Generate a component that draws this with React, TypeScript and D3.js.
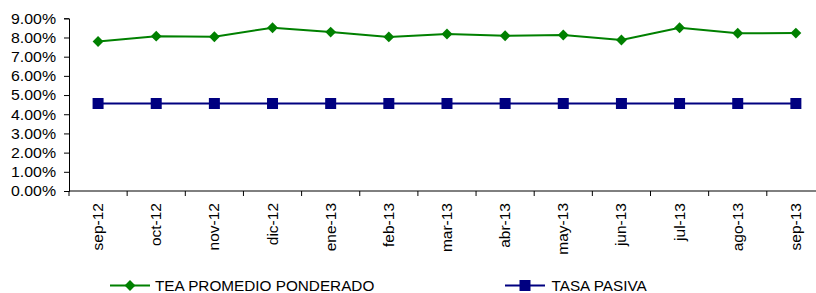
import React, { useEffect, useRef } from "react";
import * as d3 from "d3";

const months = ["sep-12", "oct-12", "nov-12", "dic-12", "ene-13", "feb-13", "mar-13", "abr-13", "may-13", "jun-13", "jul-13", "ago-13", "sep-13"];
const teaPromedio = [7.79, 8.07, 8.04, 8.51, 8.28, 8.03, 8.18, 8.09, 8.13, 7.87, 8.51, 8.22, 8.23];
const tasaPasiva = [4.56, 4.56, 4.56, 4.56, 4.56, 4.56, 4.56, 4.56, 4.56, 4.56, 4.56, 4.56, 4.56];
const yTicks = [0, 1, 2, 3, 4, 5, 6, 7, 8, 9];

const W = 816;
const H = 293;

function App() {
    const ref = useRef<SVGSVGElement>(null);

    useEffect(() => {
        const svg = d3.select(ref.current);
        svg.selectAll("*").remove();

        const left = 69, top = 18.3, bottom = 191;
        const step = 58.15;

        const x = d3.scaleBand()
            .domain(months)
            .range([left, left + step * months.length]);

        const y = d3.scaleLinear()
            .domain([0, 9])
            .range([bottom, top]);

        const font = "'Liberation Sans', Arial, sans-serif";

        // Y axis
        const yAxis = svg.append("g")
            .attr("transform", `translate(${left},0)`)
            .call(d3.axisLeft(y).tickValues(yTicks).tickSize(5).tickFormat(() => ""));
        yAxis.select(".domain").attr("stroke", "#000");
        yAxis.selectAll("line").attr("stroke", "#000");

        // y labels: tall but slightly narrow, like the reference
        svg.append("g").selectAll("text")
            .data(yTicks)
            .enter()
            .append("text")
            .attr("x", 56)
            .attr("y", d => y(d) + 5.3)
            .attr("text-anchor", "end")
            .attr("font-family", font)
            .attr("font-size", 15)
            .attr("textLength", 45)
            .attr("lengthAdjust", "spacingAndGlyphs")
            .attr("fill", "#000")
            .text(d => d.toFixed(2) + "%");

        // X axis
        const xAxis = svg.append("g")
            .attr("transform", `translate(0,${bottom})`);
        xAxis.append("line")
            .attr("x1", left).attr("x2", left + step * months.length)
            .attr("stroke", "#000");
        const edges = months.map(m => x(m) as number).concat([left + step * months.length]);
        xAxis.selectAll("line.tick")
            .data(edges)
            .enter()
            .append("line")
            .attr("class", "tick")
            .attr("x1", d => d).attr("x2", d => d)
            .attr("y1", 0).attr("y2", 5)
            .attr("stroke", "#000");
        xAxis.selectAll("text")
            .data(months)
            .enter()
            .append("text")
            .attr("transform", d => `translate(${(x(d) as number) + x.bandwidth() / 2 + 5},12) rotate(-90)`)
            .attr("text-anchor", "end")
            .attr("font-family", font)
            .attr("font-size", 15.5)
            .attr("fill", "#000")
            .text(d => d);

        const cx = (i: number) => (x(months[i]) as number) + x.bandwidth() / 2;

        const line = d3.line<number>()
            .x((d, i) => cx(i))
            .y(d => y(d));

        // TEA line
        svg.append("path")
            .attr("d", line(teaPromedio))
            .attr("fill", "none")
            .attr("stroke", "#008000")
            .attr("stroke-width", 2);

        const diamond = d3.symbol().type(d3.symbolDiamond2).size(75);
        svg.selectAll("path.tea")
            .data(teaPromedio)
            .enter()
            .append("path")
            .attr("class", "tea")
            .attr("d", diamond)
            .attr("transform", (d, i) => `translate(${cx(i)},${y(d)})`)
            .attr("fill", "#008000");

        // Tasa pasiva line
        svg.append("path")
            .attr("d", line(tasaPasiva))
            .attr("fill", "none")
            .attr("stroke", "#000080")
            .attr("stroke-width", 2);

        svg.selectAll("rect.pas")
            .data(tasaPasiva)
            .enter()
            .append("rect")
            .attr("class", "pas")
            .attr("x", (d, i) => cx(i) - 5.5)
            .attr("y", d => y(d) - 5.5)
            .attr("width", 11)
            .attr("height", 11)
            .attr("fill", "#000080");

        // Legend
        const legY = 285.5;
        const leg1 = svg.append("g").attr("transform", `translate(110,${legY})`);
        leg1.append("line").attr("x1", 0).attr("x2", 40).attr("stroke", "#008000").attr("stroke-width", 2);
        leg1.append("path").attr("d", diamond).attr("transform", "translate(20,0)").attr("fill", "#008000");
        leg1.append("text").attr("x", 45).attr("y", 5.3).attr("font-family", font).attr("font-size", 15.3).text("TEA PROMEDIO PONDERADO");

        const leg2 = svg.append("g").attr("transform", `translate(505,${legY})`);
        leg2.append("line").attr("x1", 0).attr("x2", 40).attr("stroke", "#000080").attr("stroke-width", 2);
        leg2.append("rect").attr("x", 14.5).attr("y", -5.5).attr("width", 11).attr("height", 11).attr("fill", "#000080");
        leg2.append("text").attr("x", 46.5).attr("y", 5.3).attr("font-family", font).attr("font-size", 15.3).text("TASA PASIVA");
    }, []);

    return (
        <svg ref={ref} width={W} height={H} style={{ position: "absolute", left: 0, top: 0, background: "#fff" }} />
    );
}

export default App;
